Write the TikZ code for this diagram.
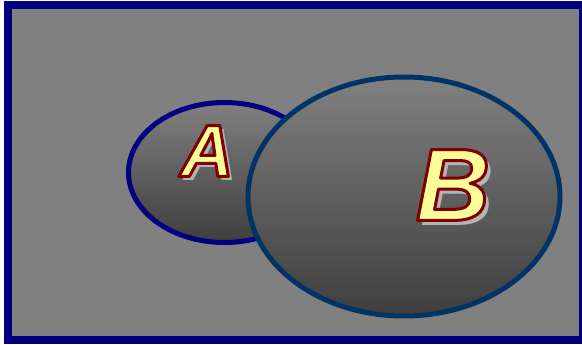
\documentclass[tikz,border=0pt]{standalone}
\usepackage{fontspec}
\setmainfont{Liberation Sans}
\definecolor{framenavy}{RGB}{0,0,128}
\definecolor{ringb}{RGB}{0,51,102}
\definecolor{bggray}{RGB}{128,128,128}
\definecolor{darkbot}{RGB}{62,62,62}
\definecolor{lettfill}{RGB}{255,255,153}
\definecolor{lettline}{RGB}{128,0,0}
\definecolor{shadowgray}{RGB}{180,180,180}
\newcommand\outlinedtext[1]{\special{pdf:literal direct 2 Tr 3 w 1 j 0.5 0 0 RG}#1\special{pdf:literal direct 0 Tr}}
\begin{document}
\begin{tikzpicture}[x=1pt,y=-1pt,
  lettr/.style={inner sep=0pt, font=\fontsize{#1}{#1}\selectfont\bfseries\itshape},
  ringa/.style={draw=framenavy, line width=5pt, top color=bggray, bottom color=darkbot},
  ringbb/.style={draw=ringb, line width=5pt, top color=bggray, bottom color=darkbot}]
\useasboundingbox (0,0) rectangle (582,345);
\draw[line width=8pt, draw=framenavy, fill=bggray] (8,5) rectangle (583,340);
\path[ringa] (224.5,172.5) ellipse [x radius=96, y radius=70];
\path[ringbb] (404,196.5) ellipse [x radius=156, y radius=119.5];
% Letter A
\node[lettr=74, text=shadowgray] (Ashadow) at (211,155) {A};
\node[lettr=74, text=lettfill] (A) at (207,151) {\outlinedtext{A}};
% Letter B
\node[lettr=103, text=shadowgray] (Bshadow) at (458,190) {B};
\node[lettr=103, text=lettfill] (B) at (453,185) {\outlinedtext{B}};
\end{tikzpicture}
\end{document}
